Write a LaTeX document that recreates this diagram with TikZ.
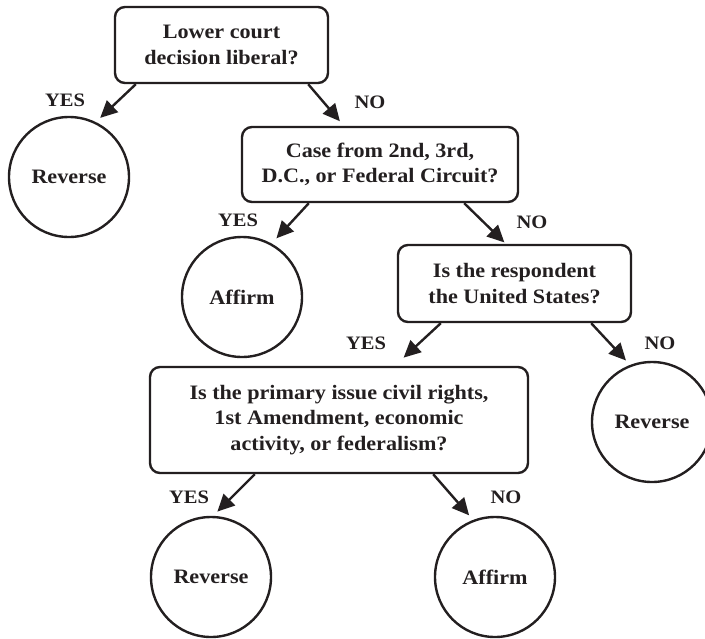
\documentclass[tikz,border=0pt]{standalone}
\usepackage{fontspec}
\setmainfont{Liberation Serif}[FakeStretch=1.08]
\usetikzlibrary{arrows.meta,calc}
\definecolor{ink}{HTML}{231F20}
\begin{document}
\begin{tikzpicture}[x=1pt,y=-1pt,
  qbox/.style={draw=ink, line width=2.4pt, rounded corners=10pt, align=center, inner sep=0pt, text=ink,
    font=\bfseries\fontsize{20.5}{25.5}\selectfont},
  leaf/.style={draw=ink, line width=2.4pt, circle, minimum size=120pt, inner sep=0pt, text=ink,
    font=\bfseries\fontsize{20.5}{24}\selectfont},
  edge/.style={draw=ink, line width=2.4pt, -{Triangle[length=17pt,width=16pt]}},
  lab/.style={text=ink, inner sep=0pt, font=\bfseries\fontsize{19}{20}\selectfont}
]
\useasboundingbox (0,0) rectangle (705,638);

% questions
\node[qbox, minimum width=213pt, minimum height=76pt] (q1) at (221.5,45) {Lower court\\decision liberal?};
\node[qbox, minimum width=276pt, minimum height=75pt] (q2) at (380,164.5) {Case from 2nd, 3rd,\\D.C., or Federal Circuit?};
\node[qbox, minimum width=233pt, minimum height=77pt] (q3) at (514.5,283.5) {Is the respondent\\the United States?};
\node[qbox, minimum width=378pt, minimum height=106pt] (q4) at (339,420) {Is the primary issue civil rights,\\1st Amendment, economic\\activity, or federalism?};

% outcomes
\node[leaf] (r1) at (69,177) {Reverse};
\node[leaf] (a1) at (242,297) {Affirm};
\node[leaf] (r2) at (652,422) {Reverse};
\node[leaf] (r3) at (211,577) {Reverse};
\node[leaf] (a3) at (495,577) {Affirm};

% connectors
\draw[edge, shorten >=6pt] ($(q1.south west)+(22,0)$) -- (r1.64);
\draw[edge, shorten >=6pt] ($(q1.south east)+(-21,0)$) -- ($(q2.north west)+(103,0)$);
\draw[edge, shorten >=7pt] ($(q2.south west)+(68,0)$) -- (a1.61);
\draw[edge, shorten >=2pt] ($(q2.south east)+(-55,0)$) -- ($(q3.north west)+(109,0)$);
\draw[edge, shorten >=12pt] ($(q3.south west)+(44,0)$) -- ($(q4.north west)+(246,0)$);
\draw[edge, shorten >=6pt] ($(q3.south east)+(-41,0)$) -- (r2.111);
\draw[edge, shorten >=6pt] ($(q4.south west)+(106,0)$) -- (r3.88);
\draw[edge, shorten >=6pt] ($(q4.south east)+(-96,0)$) -- (a3.111);

% labels
\node[lab] (l1) at (65,100) {YES};
\node[lab] (l2) at (370,102) {NO};
\node[lab] (l3) at (238,220) {YES};
\node[lab] (l4) at (532,222) {NO};
\node[lab] (l5) at (366,343) {YES};
\node[lab] (l6) at (660,343) {NO};
\node[lab] (l7) at (189,497) {YES};
\node[lab] (l8) at (506,497) {NO};
\end{tikzpicture}
\end{document}
